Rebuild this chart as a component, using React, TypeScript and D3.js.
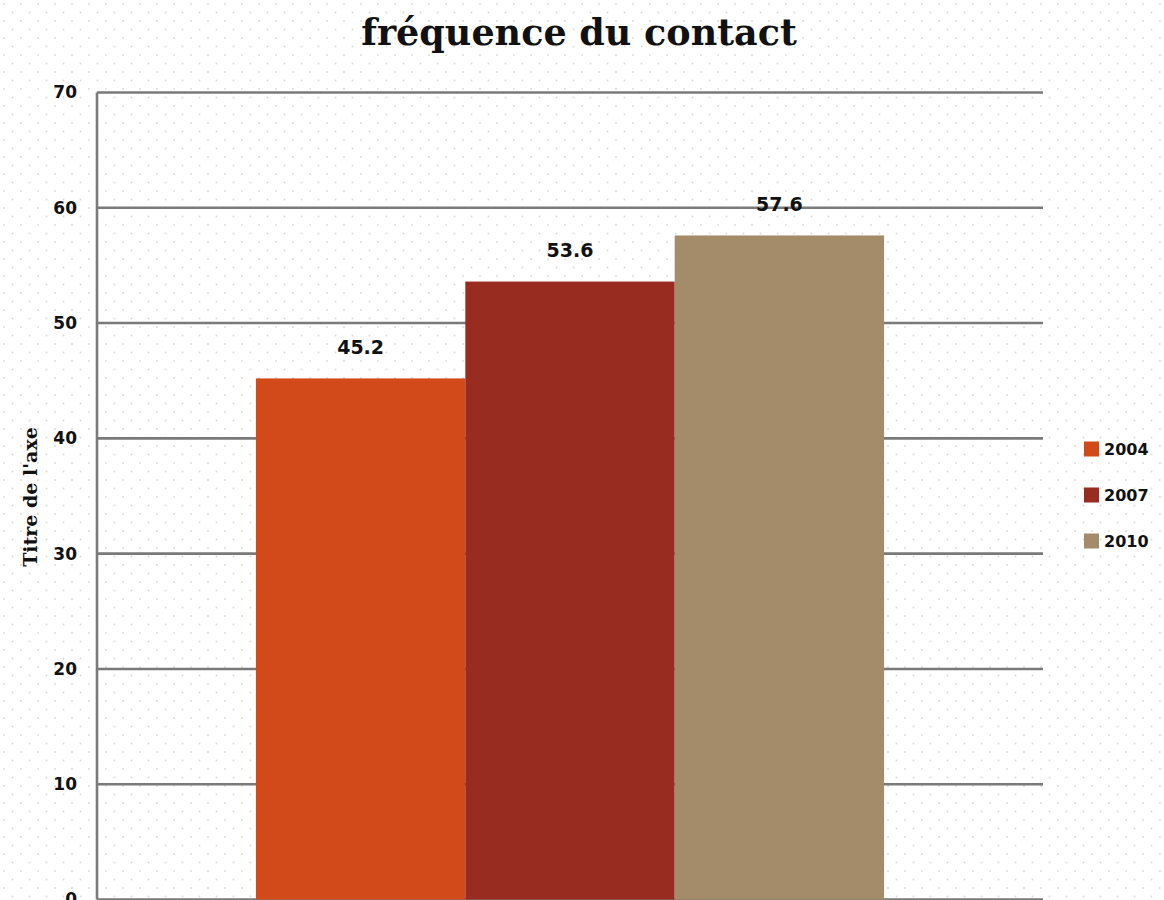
import React from "react";
import * as d3 from "d3";

const title = "fréquence du contact";
const yAxisTitle = "Titre de l'axe";
const seriesNames = ["2004", "2007", "2010"];
const seriesValues = [45.2, 53.6, 57.6];
const seriesColors = ["#D24A19", "#982C20", "#A48C6A"];
const yTicks = [0, 10, 20, 30, 40, 50, 60, 70];

const W = 1164;
const H = 900;
const plotLeft = 97;
const plotRight = 1043;
const plotTop = 92.5;
const plotBottom = 899.5;

export default function App() {
  const y = d3.scaleLinear().domain([0, 70]).range([plotBottom, plotTop]);
  const group = d3
    .scaleBand<string>()
    .domain(["g"])
    .range([plotLeft, plotRight])
    .paddingInner(0)
    .paddingOuter(0.253);
  const x = d3
    .scaleBand<string>()
    .domain(seriesNames)
    .range([group("g") as number, (group("g") as number) + group.bandwidth()])
    .padding(0);

  return (
    <div style={{ position: "absolute", left: 0, top: 0, width: W, height: H }}>
      <svg width={W} height={H} style={{ display: "block" }}>
        <defs>
          <pattern id="dots" width={17} height={17} patternUnits="userSpaceOnUse">
            <rect x={0} y={0} width={17} height={17} fill="#ffffff" />
            <circle cx={4} cy={4} r={0.9} fill="#dedbcc" />
            <circle cx={12.5} cy={12.5} r={0.9} fill="#dedbcc" />
          </pattern>
        </defs>
        <rect x={0} y={0} width={W} height={H} fill="url(#dots)" />

        <text
          x={579}
          y={45}
          textAnchor="middle"
          fontFamily="'DejaVu Serif', 'Liberation Serif', serif"
          fontWeight="bold"
          fontSize={36.5}
          fill="#111"
        >
          {title}
        </text>

        {yTicks.map((t) => (
          <g key={t}>
            <line
              x1={plotLeft}
              x2={plotRight}
              y1={y(t)}
              y2={y(t)}
              stroke="#7a7a7a"
              strokeWidth={2.6}
            />
            <text
              x={77}
              y={y(t)}
              dy="0.35em"
              textAnchor="end"
              fontFamily="'DejaVu Sans', sans-serif"
              fontWeight="bold"
              fontSize={17}
              fill="#111"
            >
              {t}
            </text>
          </g>
        ))}
        <line x1={plotLeft} x2={plotLeft} y1={plotTop} y2={plotBottom} stroke="#7a7a7a" strokeWidth={2.6} />

        {seriesNames.map((s, i) => (
          <g key={s}>
            <rect
              x={x(s)}
              y={y(seriesValues[i])}
              width={x.bandwidth()}
              height={y(0) - y(seriesValues[i])}
              fill={seriesColors[i]}
            />
            <text
              x={(x(s) as number) + x.bandwidth() / 2}
              y={y(seriesValues[i]) - 31}
              dy="0.35em"
              textAnchor="middle"
              fontFamily="'DejaVu Sans', sans-serif"
              fontWeight="bold"
              fontSize={19}
              fill="#111"
            >
              {seriesValues[i].toFixed(1)}
            </text>
          </g>
        ))}

        <text
          transform={`translate(30, 497) rotate(-90)`}
          textAnchor="middle"
          dy="0.35em"
          fontFamily="'DejaVu Serif', 'Liberation Serif', serif"
          fontWeight="bold"
          fontSize={19}
          fill="#111"
        >
          {yAxisTitle}
        </text>

        {seriesNames.map((s, i) => (
          <g key={"lg" + s} transform={`translate(1084, ${449 + i * 46})`}>
            <rect x={0} y={-7.5} width={15} height={15} fill={seriesColors[i]} />
            <text
              x={20}
              y={0}
              dy="0.35em"
              fontFamily="'DejaVu Sans', sans-serif"
              fontWeight="bold"
              fontSize={16}
              fill="#111"
            >
              {s}
            </text>
          </g>
        ))}
      </svg>
    </div>
  );
}
